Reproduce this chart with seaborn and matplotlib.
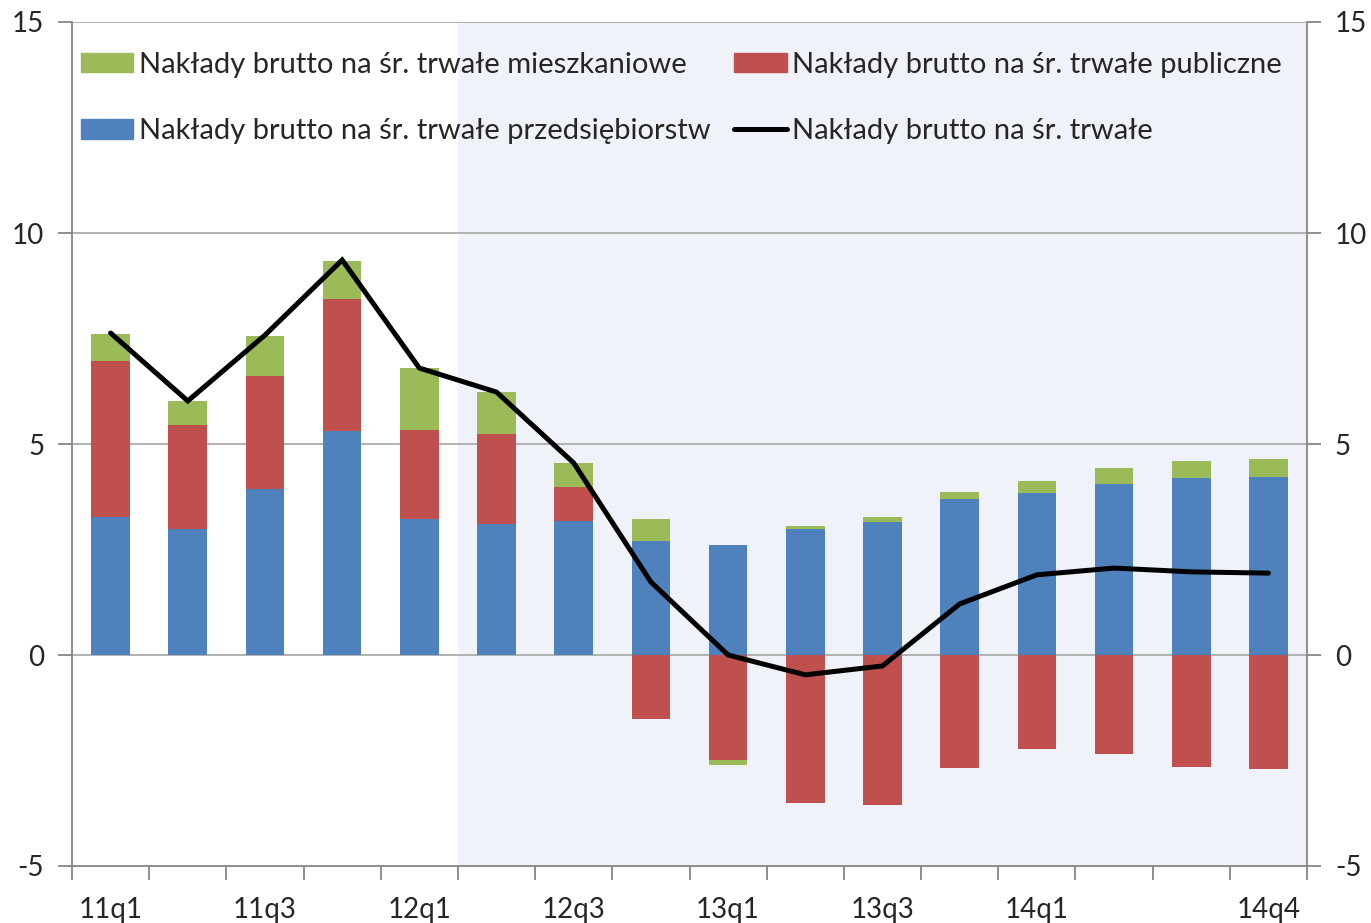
import numpy as np
import pandas as pd
import matplotlib
matplotlib.use("Agg")
import matplotlib.pyplot as plt
import matplotlib.patches as mpatches
import matplotlib.lines as mlines
import seaborn as sns

quarters = ['11q1', '11q2', '11q3', '11q4', '12q1', '12q2', '12q3', '12q4',
            '13q1', '13q2', '13q3', '13q4', '14q1', '14q2', '14q3', '14q4']
przedsiebiorstw = [3.27, 2.99, 3.93, 5.31, 3.22, 3.10, 3.18, 2.70,
                   2.61, 2.99, 3.15, 3.70, 3.84, 4.05, 4.19, 4.22]
publiczne = [3.70, 2.46, 2.68, 3.13, 2.11, 2.14, 0.80, -1.52,
             -2.49, -3.51, -3.55, -2.68, -2.23, -2.35, -2.65, -2.70]
mieszkaniowe = [0.64, 0.57, 0.95, 0.90, 1.47, 0.99, 0.57, 0.52,
                -0.12, 0.07, 0.12, 0.16, 0.28, 0.38, 0.41, 0.42]
ogolem = [7.63, 6.02, 7.58, 9.36, 6.80, 6.23, 4.55, 1.73,
          0.00, -0.47, -0.26, 1.21, 1.90, 2.06, 1.97, 1.94]
shown_labels = ['11q1', '11q3', '12q1', '12q3', '13q1', '13q3', '14q1', '14q4']

lab_green = 'Nakłady brutto na śr. trwałe mieszkaniowe'
lab_red = 'Nakłady brutto na śr. trwałe publiczne'
lab_blue = 'Nakłady brutto na śr. trwałe przedsiębiorstw'
lab_line = 'Nakłady brutto na śr. trwałe'

c_blue, c_red, c_green = '#4F81BD', '#C0504D', '#9BBB59'

sns.set_style('white')
plt.rcParams['font.family'] = ['Lato', 'DejaVu Sans']
plt.rcParams['axes.unicode_minus'] = False

df = pd.DataFrame({'q': quarters, 'blue': przedsiebiorstw,
                   'red': publiczne, 'green': mieszkaniowe, 'total': ogolem})

# diverging stack: positives on positives, negatives on negatives
pos = np.zeros(len(df))
neg = np.zeros(len(df))
bottoms = {}
for col in ['blue', 'red', 'green']:
    v = df[col].to_numpy()
    b = np.where(v >= 0, pos, neg)
    bottoms[col] = b
    pos = pos + np.where(v >= 0, v, 0)
    neg = neg + np.where(v < 0, v, 0)

fig = plt.figure(figsize=(13.71, 9.23), dpi=100)
ax = fig.add_axes([72/1371, 1-866/923, (1307-72)/1371, (866-22)/923])

ax.axvspan(4.5, 15.5, color='#EFF3F9', zorder=0, lw=0)
for yv in [0, 5, 10, 15]:
    ax.axhline(yv, color='#ABABAB', lw=1.3, zorder=1)

for col, colr in [('blue', c_blue), ('red', c_red), ('green', c_green)]:
    sns.barplot(data=df, x='q', y=col, color=colr, width=0.5, bottom=bottoms[col],
                saturation=1, ax=ax, zorder=2, edgecolor='none')

sns.lineplot(x=np.arange(len(df)), y=df['total'], color='black', lw=3.6, ax=ax,
             zorder=3, solid_capstyle='round', solid_joinstyle='miter')

ax.set_xlim(-0.5, 15.5)
ax.set_ylim(-5, 15)
ax.set_yticks([-5, 0, 5, 10, 15])
ax.set_xticks([quarters.index(q) for q in shown_labels])
ax.set_xticklabels(shown_labels)
ax.set_xticks(np.arange(-0.5, 16, 1), minor=True)
ax.set_xlabel('')
ax.set_ylabel('')

for s in ['left', 'right', 'bottom']:
    ax.spines[s].set_color('#868686')
    ax.spines[s].set_linewidth(1.3)
ax.spines['top'].set_visible(False)

ax.tick_params(axis='y', which='major', left=True, right=True, labelleft=True,
               labelright=True, direction='out', length=10, width=1.3,
               color='#868686', labelsize=20, pad=10)
ax.tick_params(axis='x', which='major', length=0, labelsize=20, pad=22)
ax.tick_params(axis='x', which='minor', bottom=True, direction='out', length=10,
               width=1.3, color='#868686')

handles = [mpatches.Patch(color=c_green, label=lab_green),
           mpatches.Patch(color=c_blue, label=lab_blue),
           mpatches.Patch(color=c_red, label=lab_red),
           mlines.Line2D([], [], color='black', lw=3.6, label=lab_line)]
ax.legend(handles=handles, ncol=2, loc='upper left', bbox_to_anchor=(0.0, 0.975),
          frameon=False, fontsize=21, handlelength=1.8, handleheight=0.65,
          handletextpad=0.2, columnspacing=0.8, labelspacing=1.39,
          borderaxespad=0.0, borderpad=0.3)

fig.savefig('out.png', dpi=100)
